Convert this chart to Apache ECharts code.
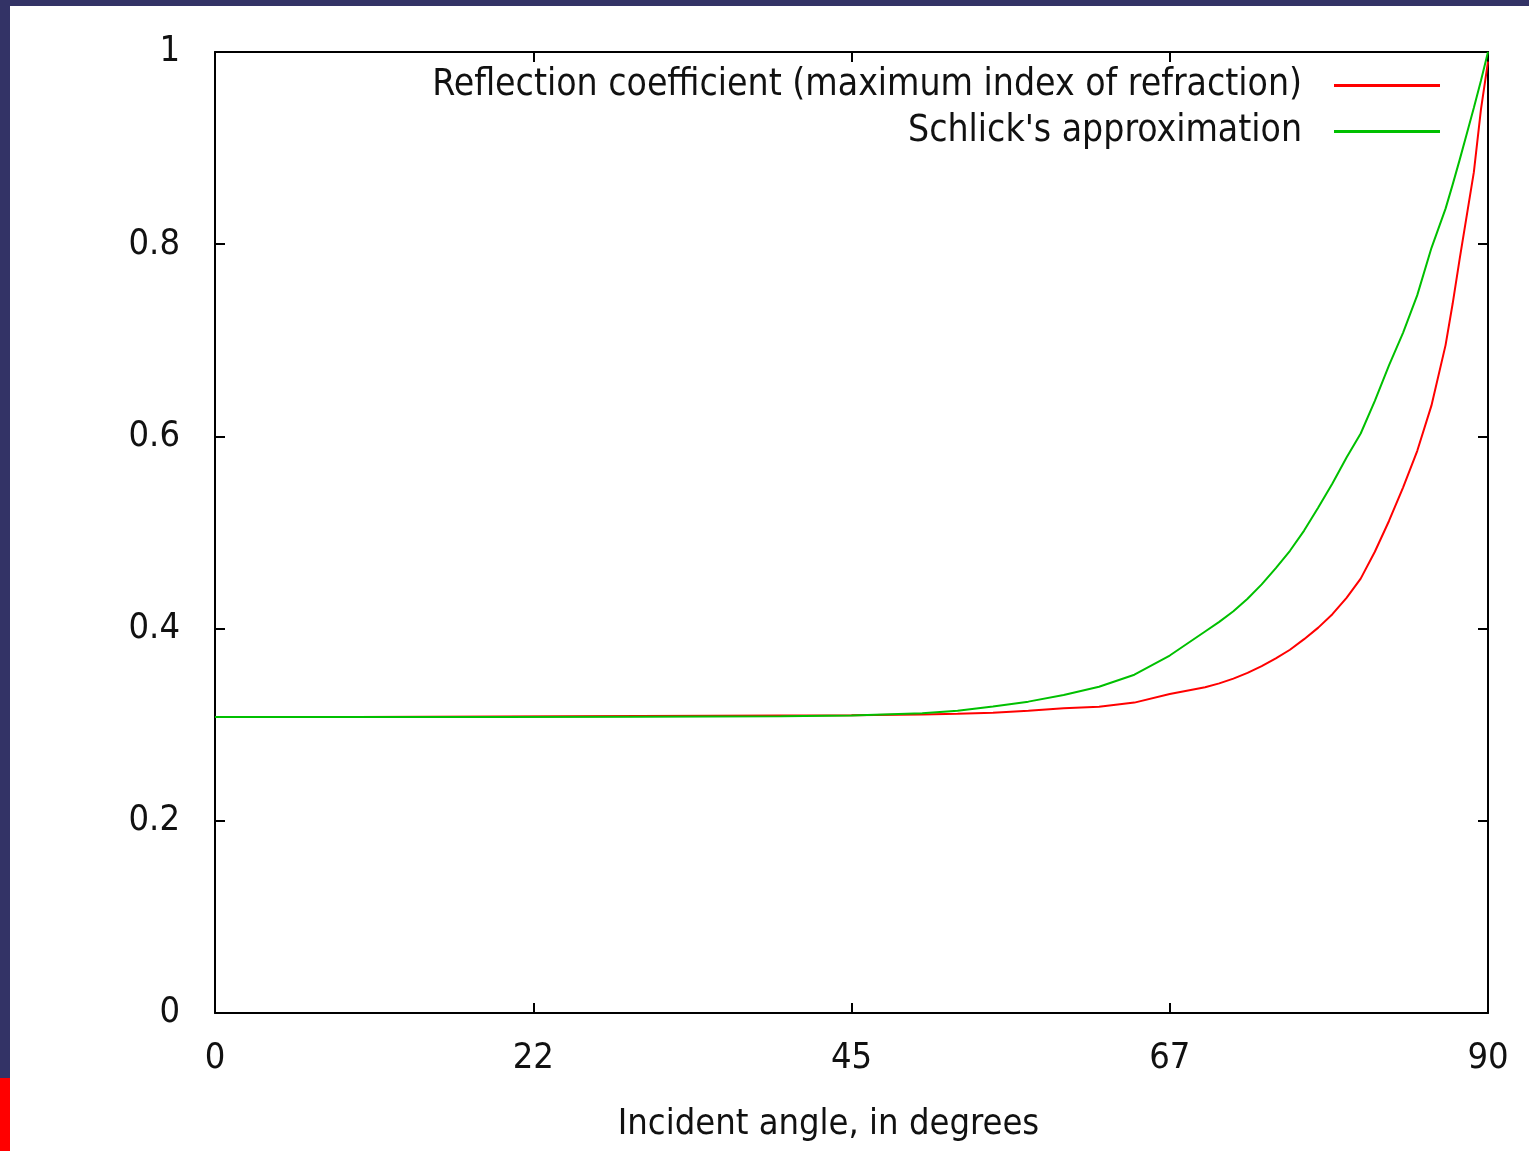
<!DOCTYPE html>
<html><head><meta charset="utf-8">
<script src="https://cdn.jsdelivr.net/npm/echarts@6/dist/echarts.min.js"></script>
<style>html,body{margin:0;padding:0;background:#fff;}#c{width:1529px;height:1151px;}</style>
</head><body><div id="c"></div>
<script>
const angles = [0, 10, 20, 30, 40, 45, 50, 52.5, 55, 57.5, 60, 62.5, 65, 67.5, 70, 71, 72, 73, 74, 75, 76, 77, 78, 79, 80, 81, 82, 83, 84, 85, 86, 87, 87.5, 88, 88.5, 89, 89.5, 90];
const reflection = [0.308, 0.308, 0.3085, 0.309, 0.3095, 0.3098, 0.3105, 0.3113, 0.3125, 0.3145, 0.317, 0.3187, 0.323, 0.332, 0.339, 0.343, 0.348, 0.354, 0.361, 0.369, 0.378, 0.389, 0.401, 0.415, 0.432, 0.452, 0.480, 0.512, 0.547, 0.585, 0.632, 0.695, 0.738, 0.785, 0.83, 0.875, 0.94, 0.99];
const schlick = [0.308, 0.308, 0.308, 0.3082, 0.3088, 0.3095, 0.312, 0.3145, 0.319, 0.324, 0.331, 0.3395, 0.352, 0.372, 0.397, 0.407, 0.418, 0.431, 0.446, 0.463, 0.481, 0.502, 0.526, 0.551, 0.578, 0.603, 0.637, 0.674, 0.708, 0.747, 0.796, 0.837, 0.862, 0.888, 0.915, 0.942, 0.97, 1.0];
const xTicks = [0, 22.5, 45, 67.5, 90];
const seriesNames = ["Reflection coefficient (maximum index of refraction)", "Schlick's approximation"];
const xTitle = "Incident angle, in degrees";

const FONT = '"DejaVu Sans Condensed", "DejaVu Sans", sans-serif';
const txt = {fontFamily: FONT, fontSize: 36, color: '#111'};
const legTxt = {fontFamily: FONT, fontSize: 37, color: '#111'};
const chart = echarts.init(document.getElementById('c'), null, {renderer: 'canvas'});
const axisCommon = {
  axisLine: {show: true, onZero: false, lineStyle: {color: '#000', width: 2}},
  axisTick: {show: true, inside: true, length: 10, lineStyle: {color: '#000', width: 2}},
  splitLine: {show: false}
};
chart.setOption({
  animation: false,
  backgroundColor: '#fff',
  graphic: [
    {type: 'rect', left: 0, top: 0, shape: {width: 1529, height: 6}, style: {fill: '#333366'}, z: 100},
    {type: 'rect', left: 0, top: 0, shape: {width: 10, height: 1078}, style: {fill: '#333366'}, z: 100},
    {type: 'rect', left: 0, top: 1078, shape: {width: 10, height: 73}, style: {fill: '#ff0000'}, z: 100}
  ],
  grid: {left: 215, right: 41, top: 52, bottom: 138, containLabel: false, outerBoundsMode: 'none'},
  legend: [
    {data: [seriesNames[0]], right: 89, top: 67, padding: 0, align: 'right', itemWidth: 106, itemHeight: 3, icon: 'rect',
     textStyle: Object.assign({padding: [0, 27, 0, 0]}, legTxt)},
    {data: [seriesNames[1]], right: 89, top: 113, padding: 0, align: 'right', itemWidth: 106, itemHeight: 3, icon: 'rect',
     textStyle: Object.assign({padding: [0, 27, 0, 0]}, legTxt)}
  ],
  xAxis: [
    Object.assign({type: 'value', min: 0, max: 90, interval: 22.5, position: 'bottom',
      name: xTitle, nameLocation: 'middle', nameGap: 94,
      nameTextStyle: Object.assign({padding: [0, 46, 0, 0]}, txt),
      axisLabel: Object.assign({margin: 28, formatter: v => String(Math.floor(v))}, txt)}, axisCommon),
    Object.assign({type: 'value', min: 0, max: 90, interval: 22.5, position: 'top',
      axisLabel: {show: false}}, axisCommon)
  ],
  yAxis: [
    Object.assign({type: 'value', min: 0, max: 1, interval: 0.2, position: 'left',
      axisLabel: Object.assign({margin: 35}, txt)}, axisCommon),
    Object.assign({type: 'value', min: 0, max: 1, interval: 0.2, position: 'right',
      axisLabel: {show: false}}, axisCommon)
  ],
  series: [
    {name: seriesNames[0], type: 'line', xAxisIndex: 0, yAxisIndex: 0, showSymbol: false,
     color: '#ff0000', lineStyle: {color: '#ff0000', width: 2},
     data: angles.map((a, i) => [a, reflection[i]])},
    {name: seriesNames[1], type: 'line', xAxisIndex: 0, yAxisIndex: 0, showSymbol: false,
     color: '#00c000', lineStyle: {color: '#00c000', width: 2},
     data: angles.map((a, i) => [a, schlick[i]])}
  ]
});
</script></body></html>
